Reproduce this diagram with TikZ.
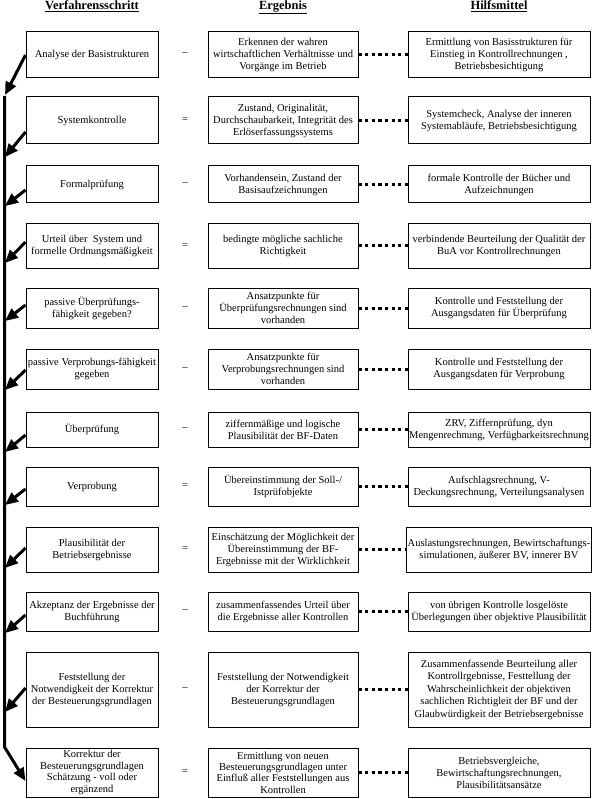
\documentclass[tikz,border=0pt]{standalone}
\usepackage{fontspec}
\setmainfont{Liberation Serif}
\usetikzlibrary{arrows.meta,calc}
\begin{document}
\begin{tikzpicture}[x=1pt,y=-1pt,
  box/.style={draw, line width=1pt, align=center, inner sep=1.2pt, font=\fontsize{10.5}{12}\selectfont},
  lbox/.style={box, minimum width=132pt},
  mbox/.style={box, minimum width=150pt},
  rbox/.style={box, minimum width=182pt},
  hdr/.style={font=\fontsize{12.5}{14}\selectfont\bfseries, anchor=base, inner sep=0pt},
  sign/.style={font=\fontsize{10.5}{12}\selectfont, inner sep=0pt},
  flow/.style={line width=3pt, -{Triangle[length=13pt,width=11pt]}},
  dots/.style={line width=3pt, dash pattern=on 3.3pt off 3.3pt}]
\useasboundingbox (0,0) rectangle (595,799);

% headers
\node[hdr] (h1) at (92,9.5) {\underline{Verfahrensschritt}};
\node[hdr] (h2) at (283,9.5) {\underline{Ergebnis}};
\node[hdr] (h3) at (499,9.5) {\underline{Hilfsmittel}};

% row 1
\node[lbox, minimum height=45.5pt] (l1) at (92,54.5) {Analyse der Basistrukturen};
\node[sign] (s1) at (185,54.5) {–};
\node[mbox, minimum height=45.5pt] (m1) at (283,54.5) {Erkennen der wahren\\wirtschaftlichen Verhältnisse und\\Vorgänge im Betrieb};
\node[rbox, minimum height=45.5pt] (r1) at (499,54.5) {Ermittlung von Basisstrukturen für\\Einstieg in Kontrollrechnungen ,\\Betriebsbesichtigung};
% row 2
\node[lbox, minimum height=47pt] (l2) at (92,120.5) {Systemkontrolle};
\node[sign] (s2) at (185,120.5) {=};
\node[mbox, minimum height=47pt] (m2) at (283,120.5) {Zustand, Originalität,\\Durchschaubarkeit, Integrität des\\Erlöserfassungssystems};
\node[rbox, minimum height=47pt] (r2) at (499,120.5) {Systemcheck, Analyse der inneren\\Systemabläufe, Betriebsbesichtigung};
% row 3
\node[lbox, minimum height=37pt] (l3) at (92,184.5) {Formalprüfung};
\node[sign] (s3) at (185,184.5) {–};
\node[mbox, minimum height=37pt] (m3) at (283,184.5) {Vorhandensein, Zustand der\\Basisaufzeichnungen};
\node[rbox, minimum height=37pt] (r3) at (499,184.5) {formale Kontrolle der Bücher und\\Aufzeichnungen};
% row 4
\node[lbox, minimum height=44pt] (l4) at (92,246) {Urteil über\ \ System und\\formelle Ordnungsmäßigkeit};
\node[sign] (s4) at (185,246) {=};
\node[mbox, minimum height=44pt] (m4) at (283,246) {bedingte mögliche sachliche\\Richtigkeit};
\node[rbox, minimum height=44pt] (r4) at (499,246) {verbindende Beurteilung der Qualität der\\BuA vor Kontrollrechnungen};
% row 5
\node[lbox, minimum height=40pt] (l5) at (92,308) {passive Überprüfungs-\\fähigkeit gegeben?};
\node[sign] (s5) at (185,308) {–};
\node[mbox, minimum height=40pt] (m5) at (283,308) {Ansatzpunkte für\\Überprüfungsrechnungen sind\\vorhanden};
\node[rbox, minimum height=40pt] (r5) at (499,308) {Kontrolle und Feststellung der\\Ausgangsdaten für Überprüfung};
% row 6
\node[lbox, minimum height=40pt] (l6) at (92,369) {passive Verprobungs-fähigkeit\\gegeben};
\node[sign] (s6) at (185,369) {–};
\node[mbox, minimum height=40pt] (m6) at (283,369) {Ansatzpunkte für\\Verprobungsrechnungen sind\\vorhanden};
\node[rbox, minimum height=40pt] (r6) at (499,369) {Kontrolle und Feststellung der\\Ausgangsdaten für Verprobung};
% row 7
\node[lbox, minimum height=35pt] (l7) at (92,429.5) {Überprüfung};
\node[sign] (s7) at (185,429.5) {–};
\node[mbox, minimum height=35pt] (m7) at (283,429.5) {ziffernmäßige und logische\\Plausibilität der BF-Daten};
\node[rbox, minimum height=35pt] (r7) at (499,429.5) {ZRV, Ziffernprüfung, dyn\\Mengenrechnung, Verfügbarkeitsrechnung};
% row 8
\node[lbox, minimum height=39pt] (l8) at (92,486.5) {Verprobung};
\node[sign] (s8) at (185,486.5) {=};
\node[mbox, minimum height=39pt] (m8) at (283,486.5) {Übereinstimmung der Soll-/\\Istprüfobjekte};
\node[rbox, minimum height=39pt] (r8) at (499,486.5) {Aufschlagsrechnung, V-\\Deckungsrechnung, Verteilungsanalysen};
% row 9
\node[lbox, minimum height=45pt] (l9) at (92,549.5) {Plausibilität der\\Betriebsergebnisse};
\node[sign] (s9) at (185,549.5) {=};
\node[mbox, minimum height=45pt] (m9) at (283,549.5) {Einschätzung der Möglichkeit der\\Übereinstimmung der BF-\\Ergebnisse mit der Wirklichkeit};
\node[rbox, minimum height=45pt] (r9) at (499,549.5) {Auslastungsrechnungen, Bewirtschaftungs-\\simulationen, äußerer BV, innerer BV};
% row 10
\node[lbox, minimum height=39pt] (l10) at (92,611.5) {Akzeptanz der Ergebnisse der\\Buchführung};
\node[sign] (s10) at (185,611.5) {–};
\node[mbox, minimum height=39pt] (m10) at (283,611.5) {zusammenfassendes Urteil über\\die Ergebnisse aller Kontrollen};
\node[rbox, minimum height=39pt] (r10) at (499,611.5) {von übrigen Kontrolle losgelöste\\Überlegungen über objektive Plausibilität};
% row 11
\node[lbox, minimum height=75pt] (l11) at (92,689.5) {Feststellung der\\Notwendigkeit der Korrektur\\der Besteuerungsgrundlagen};
\node[sign] (s11) at (185,689.5) {–};
\node[mbox, minimum height=75pt] (m11) at (283,689.5) {Feststellung der Notwendigkeit\\der Korrektur der\\Besteuerungsgrundlagen};
\node[rbox, minimum height=75pt, font=\fontsize{10.5}{12.5}\selectfont] (r11) at (499,689.5) {Zusammenfassende Beurteilung aller\\Kontrollrgebnisse, Festtellung der\\Wahrscheinlichkeit der objektiven\\sachlichen Richtigleit der BF und der\\Glaubwürdigkeit der Betriebsergebnisse};
% row 12
\node[lbox, minimum height=49pt, font=\fontsize{10.5}{11.8}\selectfont, inner ysep=0.5pt] (l12) at (92,772.5) {Korrektur der\\Besteuerungsgrundlagen\\Schätzung - voll oder\\ergänzend};
\node[sign] (s12) at (185,772.5) {=};
\node[mbox, minimum height=49pt, font=\fontsize{10.5}{11.3}\selectfont, inner ysep=0.5pt] (m12) at (283,772.5) {Ermittlung von neuen\\Besteuerungsgrundlagen unter\\Einfluß aller Feststellungen aus\\Kontrollen};
\node[rbox, minimum height=49pt] (r12) at (499,772.5) {Betriebsvergleiche,\\Bewirtschaftungsrechnungen,\\Plausibilitätsansätze};

% dotted connectors
\foreach \i in {1,...,12} {\draw[dots] (m\i.east) -- (r\i.west);}

% flow line coordinates
\coordinate (t1) at (5,95);
\coordinate (t2) at (5,157);
\coordinate (t3) at (5,206);
\coordinate (t4) at (5,263);
\coordinate (t5) at (5,321);
\coordinate (t6) at (5,390);
\coordinate (t7) at (5,452);
\coordinate (t8) at (5,505);
\coordinate (t9) at (5,568);
\coordinate (t10) at (5,633);
\coordinate (t11) at (5,712);
\coordinate (vtop) at (4.5,96);
\coordinate (vbot) at (4.5,747);

\draw[flow] ($(l1.west)+(0,0.5)$) -- (t1);
\draw[flow] ($(l2.west)+(0,11.5)$) -- (t2);
\draw[flow] ($(l3.west)+(0,5.5)$) -- (t3);
\draw[flow] ($(l4.west)+(0,-4)$) -- (t4);
\draw[flow] ($(l5.west)+(0,-3)$) -- (t5);
\draw[flow] ($(l6.west)+(0,1)$) -- (t6);
\draw[flow] ($(l7.west)+(0,5.5)$) -- (t7);
\draw[flow] ($(l8.west)+(0,2.5)$) -- (t8);
\draw[flow] ($(l9.west)+(0,-1.5)$) -- (t9);
\draw[flow] ($(l10.west)+(0,3.5)$) -- (t10);
\draw[flow] ($(l11.west)+(0,-1.5)$) -- (t11);
\draw[flow] (vtop) -- (vbot) -- ($(l12.west)+(0,8.5)$);
\end{tikzpicture}
\end{document}
